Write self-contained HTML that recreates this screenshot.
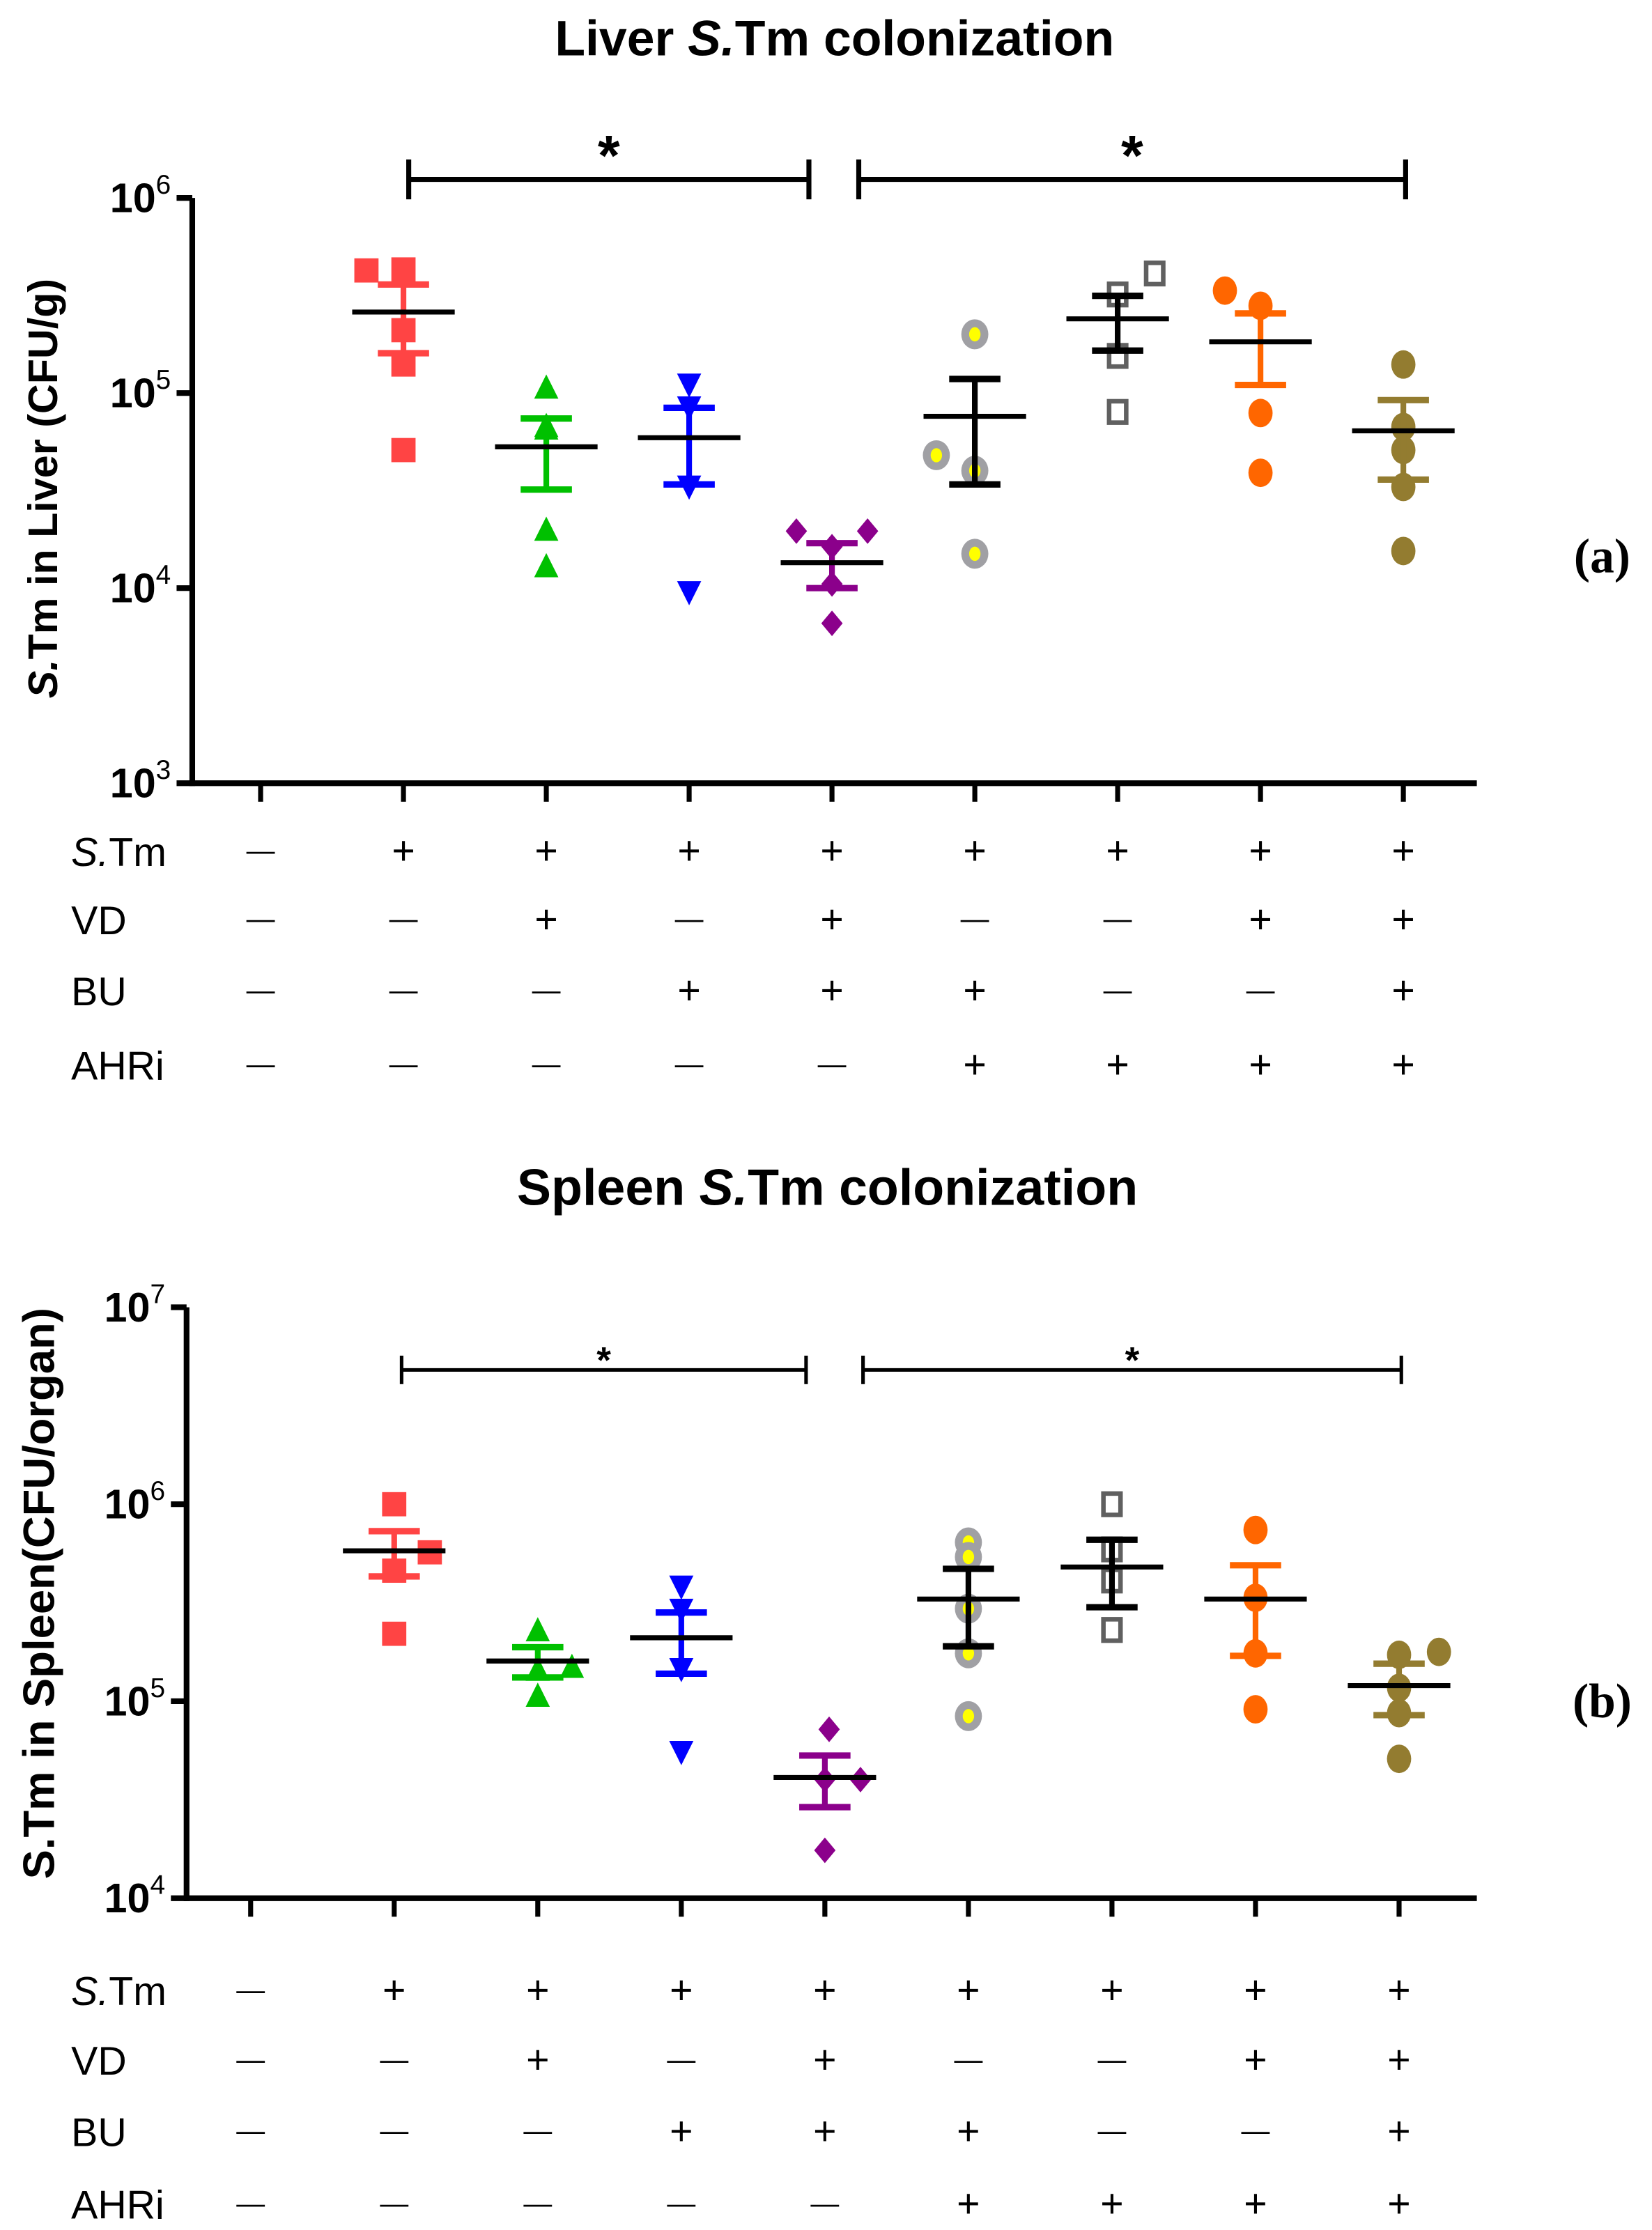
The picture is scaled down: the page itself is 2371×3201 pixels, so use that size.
<!DOCTYPE html>
<html><head><meta charset="utf-8">
<style>
html,body{margin:0;padding:0;background:#fff;}
svg{display:block;}
text{font-family:"Liberation Sans",Arial,sans-serif;}
</style></head>
<body>
<svg id="fig" width="2371" height="3201" viewBox="0 0 1160 1566" preserveAspectRatio="none" xmlns="http://www.w3.org/2000/svg">
<text x="586" y="39" text-anchor="middle" font-size="35" font-weight="bold">Liver <tspan font-style="italic">S.</tspan>Tm colonization</text>
<text x="581" y="846" text-anchor="middle" font-size="36" font-weight="bold">Spleen <tspan font-style="italic">S.</tspan>Tm colonization</text>
<text transform="translate(40,343) rotate(-90)" text-anchor="middle" font-size="29" font-weight="bold"><tspan font-style="italic">S.</tspan>Tm in Liver (CFU/g)</text>
<text transform="translate(38,1119) rotate(-90)" text-anchor="middle" font-size="31" font-weight="bold">S.Tm in Spleen(CFU/organ)</text>
<text x="1125" y="402" text-anchor="middle" font-size="34" font-weight="bold" style="font-family:'Liberation Serif',serif">(a)</text>
<text x="1125" y="1206" text-anchor="middle" font-size="34" font-weight="bold" style="font-family:'Liberation Serif',serif">(b)</text>
<g id="pa"></g>
<g id="pb"></g>
</svg>
<script>
const NS="http://www.w3.org/2000/svg";
// ---- data ----
const rowLabels=["S.Tm","VD","BU","AHRi"];
const signs=[
 ["-","+","+","+","+","+","+","+","+"],
 ["-","-","+","-","+","-","-","+","+"],
 ["-","-","-","+","+","+","-","-","+"],
 ["-","-","-","-","-","+","+","+","+"]];
const liverPoints=[[],[4.25e5,4.3e5,2.1e5,1.4e5,5.1e4],[1.07e5,6.8e4,6.6e4,2.0e4,1.3e4],[1.1e5,8.4e4,3.3e4,9.5e3],[1.96e4,1.96e4,1.63e4,1.05e4,6.6e3],[2.0e5,4.8e4,4.0e4,1.5e4],[3.2e5,4.1e5,1.55e5,8.0e4],[3.35e5,2.8e5,7.9e4,3.9e4],[1.4e5,6.7e4,5.1e4,3.3e4,1.55e4]];
const liverMeans=[null,2.6e5,5.3e4,5.9e4,1.35e4,7.6e4,2.4e5,1.83e5,6.4e4];
const liverSem=[null,1.0e5,2.1e4,2.5e4,3.5e3,4.2e4,7.5e4,7.3e4,2.8e4];
const spleenPoints=[[],[1.0e6,5.7e5,4.6e5,2.2e5],[2.3e5,1.5e5,1.45e5,1.07e5],[3.8e5,2.9e5,1.45e5,5.5e4],[7.2e4,4.0e4,4.0e4,1.75e4],[6.4e5,5.4e5,2.95e5,1.75e5,8.4e4],[1.0e6,5.9e5,4.1e5,2.3e5],[7.4e5,3.35e5,1.75e5,9.1e4],[1.72e5,1.78e5,1.17e5,8.7e4,5.1e4]];
const spleenMeans=[null,5.8e5,1.6e5,2.1e5,4.1e4,3.3e5,4.8e5,3.3e5,1.2e5];
const spleenSem=[null,1.5e5,2.8e4,7.2e4,1.2e4,1.4e5,1.8e5,1.6e5,3.5e4];
// ---- styles (not data) ----
const colors=[null,"#ff4444","#00c000","#0000ff","#8b008b","#a0a0a4","#606060","#ff6600","#937c30"];
const barColors=[null,"#ff4444","#00c000","#0000ff","#8b008b","#000","#000","#ff6600","#937c30"];
const shapes=[null,"square","up","down","diamond","ring","open","circle","circle"];
const liverJitter=[[],[-26,0,0,0,0],[0,0,0,0,0],[0,0,0,0],[-25,25,0,0,0],[0,-27,0,0],[0,26,0,0],[-25,0,0,0],[0,0,0,0,0]];
const spleenJitter=[[],[0,25,0,0],[0,24,0,0],[0,0,0,0],[3,25,0,0],[0,0,0,0,0],[0,0,0,0],[0,0,0,0],[0,28,0,0,0]];

function el(p,t,a,txt){const e=document.createElementNS(NS,t);for(const k in a)e.setAttribute(k,a[k]);if(txt!==undefined)e.textContent=txt;p.appendChild(e);return e;}
function marker(g,shape,cx,cy,col){
 let e;const s=8.5;
 if(shape==="square")e=el(g,"rect",{x:cx-s,y:cy-s,width:2*s,height:2*s,fill:col});
 else if(shape==="up")e=el(g,"polygon",{points:`${cx},${cy-9} ${cx+8.5},${cy+8} ${cx-8.5},${cy+8}`,fill:col});
 else if(shape==="down")e=el(g,"polygon",{points:`${cx},${cy+9} ${cx+8.5},${cy-8} ${cx-8.5},${cy-8}`,fill:col});
 else if(shape==="diamond")e=el(g,"polygon",{points:`${cx},${cy-9} ${cx+7.5},${cy} ${cx},${cy+9} ${cx-7.5},${cy}`,fill:col});
 else if(shape==="ring"){e=el(g,"ellipse",{cx:cx,cy:cy,rx:9.5,ry:10.5,fill:col});const d=el(g,"ellipse",{cx:cx,cy:cy,rx:4,ry:5,fill:"#ffff00"});
  
  }
 else if(shape==="open")e=el(g,"rect",{x:cx-6,y:cy-7.5,width:12,height:15,fill:"#fff",stroke:col,"stroke-width":3.2});
 else e=el(g,"ellipse",{cx:cx,cy:cy,rx:8.5,ry:10,fill:col});
 
 
}
function panel(gid,cfg){
 const g=document.getElementById(gid);
 const yS=v=>cfg.y0+(cfg.maxExp-Math.log10(v))*(cfg.y1-cfg.y0)/(cfg.maxExp-cfg.minExp);
 const xS=i=>cfg.xs0+i*cfg.dx;
 const ya=el(g,"line",{x1:cfg.ax,y1:cfg.y0,x2:cfg.ax,y2:cfg.y1+2,stroke:"#000","stroke-width":4});
 
 
 const xa=el(g,"line",{x1:cfg.ax-2,y1:cfg.y1,x2:1037,y2:cfg.y1,stroke:"#000","stroke-width":4});
 
 
 for(let e=cfg.minExp;e<=cfg.maxExp;e++){
  const y=yS(Math.pow(10,e));
  const tk=el(g,"line",{x1:cfg.ax-11,y1:y,x2:cfg.ax,y2:y,stroke:"#000","stroke-width":4});
  
  
  const t=el(g,"text",{x:cfg.ax-15,y:y+10,"text-anchor":"end","font-size":29,"font-weight":"bold"});
  
  
  t.appendChild(document.createTextNode("10"));
  el(t,"tspan",{dy:-13,"font-size":19,"font-weight":"normal"},String(e));
 }
 for(let i=0;i<9;i++){
  const tk=el(g,"line",{x1:xS(i),y1:cfg.y1,x2:xS(i),y2:cfg.y1+13,stroke:"#000","stroke-width":3.5});
  
  
 }
 for(let i=1;i<9;i++){
  const gg=el(g,"g",{});
  
  
  const x=xS(i);
  cfg.points[i].forEach((v,j)=>marker(gg,shapes[i],x+cfg.jit[i][j],yS(v),colors[i]));
  const m=cfg.means[i],s=cfg.sem[i],bc=barColors[i];
  const yt=yS(m+s),yb=yS(Math.max(m-s,1));
  const vl=el(gg,"line",{x1:x,y1:yt,x2:x,y2:yb,stroke:bc,"stroke-width":4});
  
  
  [yt,yb].forEach(yy=>{const c=el(gg,"line",{x1:x-18,y1:yy,x2:x+18,y2:yy,stroke:bc,"stroke-width":4.5});
   
   });
  const ml=el(gg,"line",{x1:x-36,y1:yS(m),x2:x+36,y2:yS(m),stroke:"#000","stroke-width":3.5});
  
  
 }
 cfg.sig.forEach(b=>{
  const sg=el(g,"g",{stroke:"#000","stroke-width":cfg.sw});
  
  
  el(sg,"line",{x1:b[0],y1:cfg.sy,x2:b[1],y2:cfg.sy});
  el(sg,"line",{x1:b[0],y1:cfg.sy-cfg.th,x2:b[0],y2:cfg.sy+cfg.th});
  el(sg,"line",{x1:b[1],y1:cfg.sy-cfg.th,x2:b[1],y2:cfg.sy+cfg.th});
  const st=el(g,"text",{x:(b[0]+b[1])/2,y:cfg.sy-cfg.starOff,"text-anchor":"middle","font-size":cfg.starSize,"font-weight":"bold"},"*");
  
  
 });
 rowLabels.forEach((lab,r)=>{
  const y=cfg.rows[r];
  const t=el(g,"text",{x:50,y:y+10,"font-size":28});
  
  
  if(lab==="S.Tm"){el(t,"tspan",{"font-style":"italic"},"S.");t.appendChild(document.createTextNode("Tm"));}
  else t.textContent=lab;
  signs[r].forEach((s,i)=>{
   const c=s==="+"?el(g,"text",{x:xS(i),y:y+9,"text-anchor":"middle","font-size":28},"+")
                  :el(g,"text",{x:xS(i),y:y+6,"text-anchor":"middle","font-size":20},"—");
   
   
  });
 });
}
panel("pa",{ax:135,y0:139,y1:550,maxExp:6,minExp:3,xs0:183,dx:100.3,points:liverPoints,means:liverMeans,sem:liverSem,jit:liverJitter,
 sig:[[287,568],[603,987]],sy:126,th:14,sw:3.5,starOff:3,starSize:40,rows:[598,646,696,748]});
panel("pb",{ax:131,y0:918,y1:1333,maxExp:7,minExp:4,xs0:176,dx:100.8,points:spleenPoints,means:spleenMeans,sem:spleenSem,jit:spleenJitter,
 sig:[[282,566],[606,984]],sy:962,th:10,sw:2.5,starOff:-2,starSize:26,rows:[1398,1447,1497,1548]});
</script>
</body></html>
